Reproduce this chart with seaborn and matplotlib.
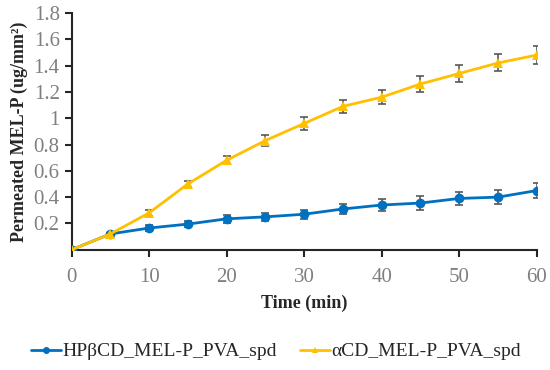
import matplotlib
matplotlib.use("Agg")
import matplotlib.pyplot as plt
import seaborn as sns
import pandas as pd

time_min = [0, 5, 10, 15, 20, 25, 30, 35, 40, 45, 50, 55, 60]
hp_vals = [0.0, 0.12, 0.165, 0.195, 0.235, 0.25, 0.27, 0.31, 0.34, 0.355, 0.39, 0.40, 0.45]
hp_err = [0.0, 0.01, 0.02, 0.025, 0.03, 0.03, 0.035, 0.04, 0.045, 0.05, 0.05, 0.055, 0.06]
a_vals = [0.0, 0.12, 0.28, 0.50, 0.68, 0.83, 0.96, 1.09, 1.16, 1.26, 1.34, 1.42, 1.48]
a_err = [0.0, 0.01, 0.02, 0.025, 0.03, 0.04, 0.05, 0.05, 0.055, 0.06, 0.065, 0.065, 0.07]
labels = ["HPβCD_MEL-P_PVA_spd", "αCD_MEL-P_PVA_spd"]
colors = ["#0070C0", "#FFC000"]

df = pd.DataFrame({
    "time": time_min * 2,
    "value": hp_vals + a_vals,
    "series": [labels[0]] * len(time_min) + [labels[1]] * len(time_min),
})

sns.set_style("ticks")
plt.rcParams['font.family'] = ['Liberation Serif', 'DejaVu Serif']

fig, ax = plt.subplots(figsize=(5.5, 3.7), dpi=100)
for vals, err in [(hp_vals, hp_err), (a_vals, a_err)]:
    ax.errorbar(time_min, vals, yerr=err, fmt='none', ecolor='#595959',
                elinewidth=1.2, capsize=3, capthick=1.2, zorder=1)
sns.lineplot(data=df, x="time", y="value", hue="series", style="series",
             palette=colors, markers=["o", "^"], dashes=False, linewidth=2,
             markersize=7, markeredgewidth=0, ax=ax, zorder=3)

ax.set_xlim(0, 60)
ax.set_ylim(0, 1.8)
ax.set_xticks([0, 10, 20, 30, 40, 50, 60])
ax.set_yticks([0.2, 0.4, 0.6, 0.8, 1.0, 1.2, 1.4, 1.6, 1.8])
ax.set_yticklabels(["0.2", "0.4", "0.6", "0.8", "1", "1.2", "1.4", "1.6", "1.8"])
ax.tick_params(axis='both', labelsize=15, labelcolor='#7f7f7f', width=1.5, length=5)
ax.tick_params(axis='x', pad=8)
for s in ["left", "bottom"]:
    ax.spines[s].set_linewidth(1.5)
sns.despine(ax=ax)
ax.set_xlabel("Time (min)", fontsize=13, fontweight='bold', labelpad=6)
ax.set_ylabel("Permeated MEL-P (ug/mm²)", fontsize=13, fontweight='bold', labelpad=4)

handles, lbls = ax.get_legend_handles_labels()
for h in handles:
    h.set_markersize(5)
ax.legend(handles, lbls, loc='center', bbox_to_anchor=(0.44, -0.43),
          ncol=2, frameon=False, fontsize=14, handlelength=1.5,
          handletextpad=0.1, columnspacing=1.2)

fig.subplots_adjust(left=0.13, right=0.976, top=0.965, bottom=0.325)
fig.savefig("out.png", dpi=100)
